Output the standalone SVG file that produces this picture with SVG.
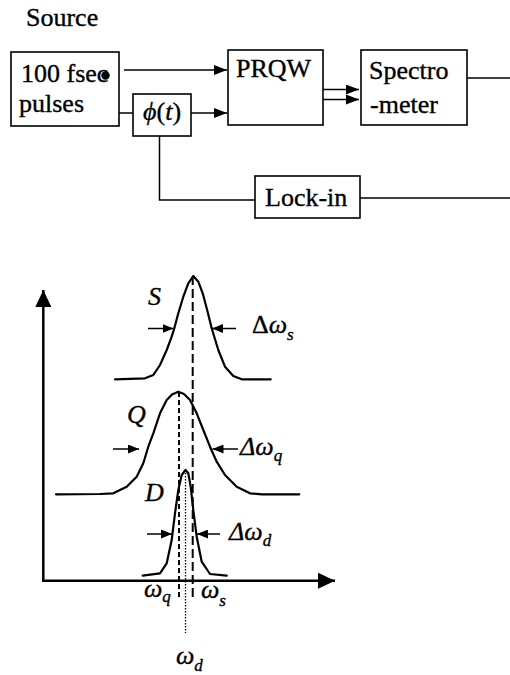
<svg xmlns="http://www.w3.org/2000/svg" width="510" height="675" viewBox="0 0 510 675">
<style>
.box{fill:#fff;stroke:#000;stroke-width:1.6}
.t{font-family:"Liberation Serif","Times New Roman",serif;font-size:26px;fill:#000;stroke:#000;stroke-width:0.35}
.it{font-style:italic}
.sub{font-size:17px;font-style:italic}
.ln{fill:none;stroke:#000;stroke-width:1.5}
.curve{fill:none;stroke:#000;stroke-width:2.2;stroke-linejoin:round;stroke-linecap:round}
.axis{fill:none;stroke:#000;stroke-width:2.5}
</style>
<defs>
<marker id="ah" markerUnits="userSpaceOnUse" markerWidth="13" markerHeight="10" refX="13" refY="5" orient="auto"><path d="M0,0 L13,5 L0,10 z" fill="#000"/></marker>
<marker id="sa" markerUnits="userSpaceOnUse" markerWidth="11" markerHeight="9" refX="11" refY="4.5" orient="auto"><path d="M0,0 L11,4.5 L0,9 z" fill="#000"/></marker>
<marker id="ax" markerUnits="userSpaceOnUse" markerWidth="17" markerHeight="16" refX="17" refY="8" orient="auto"><path d="M0,0 L17,8 L0,16 z" fill="#000"/></marker>
</defs>

<g id="connectors">
<path class="ln" d="M124,70 H227" marker-end="url(#ah)"/>
<path class="ln" d="M119,113 H133"/>
<path class="ln" d="M191,113 H227" marker-end="url(#ah)"/>
<path class="ln" d="M323,89.5 H359" marker-end="url(#ah)"/>
<path class="ln" d="M323,99.5 H359" marker-end="url(#ah)"/>
<path class="ln" d="M467,78 H510"/>
<path class="ln" d="M159.5,136 V200 H255"/>
<path class="ln" d="M360,198 H510"/>
</g>

<text class="t" x="26" y="26">Source</text>

<g id="source">
<rect class="box" x="11" y="52" width="108" height="74"/>
<text class="t" x="21" y="82">100 fsec</text>
<circle cx="105.5" cy="75.5" r="4.2" fill="#000"/>
<text class="t" x="19" y="112">pulses</text>
</g>

<g id="phase">
<rect class="box" x="133" y="94" width="58" height="42"/>
<text class="t" x="143" y="120"><tspan class="it">ϕ</tspan>(<tspan class="it">t</tspan>)</text>
</g>

<g id="prqw">
<rect class="box" x="228" y="50" width="95" height="75"/>
<text class="t" x="236" y="76.5">PRQW</text>
</g>

<g id="spectrometer">
<rect class="box" x="361" y="50" width="106" height="75"/>
<text class="t" x="369" y="78.5">Spectro</text>
<text class="t" x="370" y="112.5">-meter</text>
</g>

<g id="lockin">
<rect class="box" x="255" y="176" width="105" height="42"/>
<text class="t" x="265" y="206">Lock-in</text>
</g>

<g id="plot">
<path class="axis" d="M43.3,581 V290" marker-end="url(#ax)"/>
<path class="axis" d="M42,580.7 H335" marker-end="url(#ax)"/>

<polyline class="curve" points="115,379.3 145,378.3 153.3,375 160,365 166.7,350 171.7,336.7 174.3,328.3 178.3,313.3 183.3,296.7 188.3,283.3 193.3,276 198.3,281.7 202.7,293.3 206.7,308.3 211.7,328.3 218.3,350 225,366.7 233.3,376 241.7,379.3 270.7,379.3"/>
<polyline class="curve" points="56,494.3 100,494 113.3,493.3 126.7,486.7 136.7,476.7 143.3,463.3 148.3,446.7 153.3,433.3 160,413.3 166.7,400 172,394.5 178.3,391.7 184,394 190,400 196.7,413.3 203.3,430 210,446.7 216.7,461.7 225,475 236.7,486.7 250,493.3 262,494.3 299.3,494.3"/>
<polyline class="curve" points="142.7,575.7 160,573.3 166.7,563.3 171.7,540 175,513.3 178.3,490 181.7,475 185.5,470 188.3,473.3 190.7,486.7 193.3,510 196.7,536.7 201.7,561.7 210,574 226.7,575.7"/>

<path fill="none" stroke="#000" stroke-width="2" stroke-dasharray="9 4" d="M192.7,276 V600"/>
<path fill="none" stroke="#000" stroke-width="2" stroke-dasharray="5 3" d="M179,392 V598"/>
<path fill="none" stroke="#000" stroke-width="1.3" stroke-dasharray="1.5 1.5" d="M185.5,470 V633"/>

<path class="ln" d="M148,328.5 H173.5" marker-end="url(#sa)"/>
<path class="ln" d="M236,328.5 H212" marker-end="url(#sa)"/>
<path class="ln" d="M113,449 H139" marker-end="url(#sa)"/>
<path class="ln" d="M238,449 H212.5" marker-end="url(#sa)"/>
<path class="ln" d="M147,534 H172" marker-end="url(#sa)"/>
<path class="ln" d="M220,534 H197" marker-end="url(#sa)"/>

<text class="t it" x="148" y="305">S</text>
<text class="t it" x="127" y="423">Q</text>
<text class="t it" x="145" y="501">D</text>

<text class="t" x="252" y="333">Δ<tspan class="it">ω</tspan><tspan class="sub" dy="7">s</tspan></text>
<text class="t it" x="240" y="455">Δω<tspan class="sub" dy="6">q</tspan></text>
<text class="t it" x="229" y="540">Δω<tspan class="sub" dy="6">d</tspan></text>

<text class="t it" x="144" y="597">ω<tspan class="sub" dy="5">q</tspan></text>
<text class="t it" x="201" y="598">ω<tspan class="sub" dy="8">s</tspan></text>
<text class="t it" x="176" y="664">ω<tspan class="sub" dy="7">d</tspan></text>
</g>
</svg>
